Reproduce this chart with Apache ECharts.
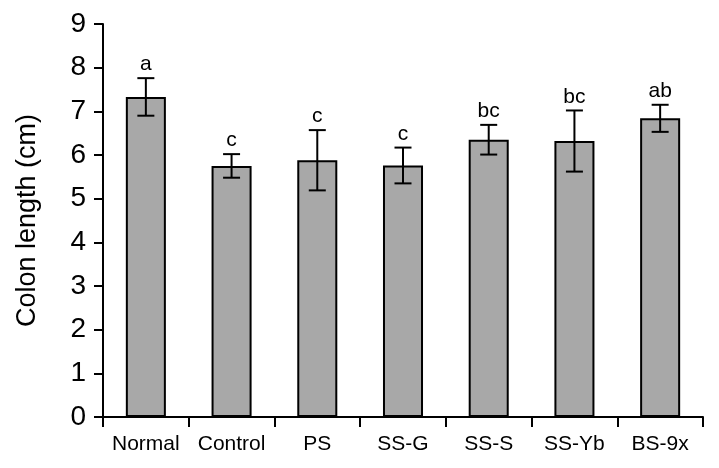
<!DOCTYPE html>
<html><head><meta charset="utf-8">
<script src="https://cdn.jsdelivr.net/npm/echarts@6/dist/echarts.min.js"></script>
<style>html,body{margin:0;padding:0;background:#fff}#c{width:719px;height:468px}</style>
</head><body><div id="c"></div>
<script>
var categories = ['Normal','Control','PS','SS-G','SS-S','SS-Yb','BS-9x'];
var means = [7.33, 5.75, 5.88, 5.76, 6.35, 6.32, 6.84];
var errors = [0.43, 0.27, 0.69, 0.41, 0.34, 0.70, 0.31];
var letters = ['a','c','c','c','bc','bc','ab'];
var yTicks = [0,1,2,3,4,5,6,7,8,9];

var font = '"Liberation Sans", Arial, sans-serif';
var chart = echarts.init(document.getElementById('c'), null, {renderer:'canvas'});
var errData = means.map(function(m,i){ return [i, m, errors[i]]; });
chart.setOption({
  animation:false,
  grid:{left:103, right:16, top:24, bottom:51, containLabel:false},
  xAxis:{type:'category', data:categories,
    axisLine:{lineStyle:{color:'#000', width:2}},
    axisTick:{show:true, interval:0, length:10, lineStyle:{color:'#000', width:2}},
    axisLabel:{color:'#000', fontFamily:font, fontSize:21, margin:17, interval:0, hideOverlap:false}
  },
  yAxis:{type:'value', min:yTicks[0], max:yTicks[yTicks.length-1], interval:1,
    name:'Colon length (cm)', nameLocation:'middle', nameGap:62,
    nameTextStyle:{color:'#000', fontFamily:font, fontSize:27},
    splitLine:{show:false},
    axisLine:{show:true, lineStyle:{color:'#000', width:2}},
    axisTick:{show:true, length:9, lineStyle:{color:'#000', width:2}},
    axisLabel:{color:'#000', fontFamily:font, fontSize:28, margin:17}
  },
  series:[
    {type:'bar', data:means, barWidth:'46.7%',
     itemStyle:{color:'#a8a8a8', borderColor:'#000', borderWidth:2}},
    {type:'custom', data:errData, z:10,
     renderItem:function(params, api){
       var x = api.value(0), m = api.value(1), e = api.value(2);
       var top = api.coord([x, m+e]);
       var bot = api.coord([x, m-e]);
       var hw = 8.5;
       var st = {stroke:'#000', lineWidth:2};
       return {type:'group', children:[
         {type:'line', shape:{x1:top[0], y1:top[1], x2:bot[0], y2:bot[1]}, style:st},
         {type:'line', shape:{x1:top[0]-hw, y1:top[1], x2:top[0]+hw, y2:top[1]}, style:st},
         {type:'line', shape:{x1:bot[0]-hw, y1:bot[1], x2:bot[0]+hw, y2:bot[1]}, style:st},
         {type:'text', style:{text:letters[params.dataIndex], x:top[0], y:top[1]-3,
           textAlign:'center', textVerticalAlign:'bottom', fill:'#000', font:'21px '+font}}
       ]};
     }}
  ]
});
</script></body></html>
